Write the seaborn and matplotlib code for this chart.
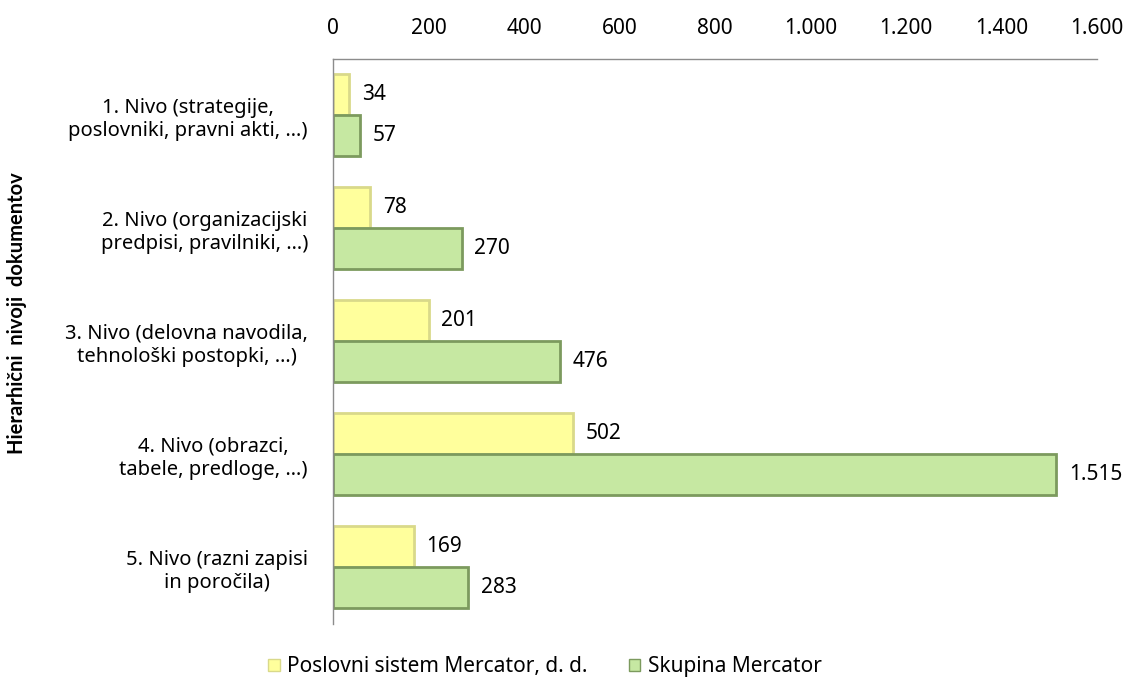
import matplotlib.pyplot as plt
import pandas as pd
import seaborn as sns

# Data
categories = [
    "1. Nivo (strategije,\nposlovniki, pravni akti, …)",
    "2. Nivo (organizacijski\npredpisi, pravilniki, …)",
    "3. Nivo (delovna navodila,\ntehnološki postopki, …)",
    "4. Nivo (obrazci,\ntabele, predloge, …)",
    "5. Nivo (razni zapisi\nin poročila)",
]
series_names = ["Poslovni sistem Mercator, d. d.", "Skupina Mercator"]
poslovni = [34, 78, 201, 502, 169]
skupina = [57, 270, 476, 1515, 283]
x_ticks = [0, 200, 400, 600, 800, 1000, 1200, 1400, 1600]

colors = ["#FFFF9C", "#C6E8A2"]
edge_colors = ["#D9D98A", "#7C9A5E"]


def fmt(v):
    return f"{v:,}".replace(",", ".")


df = pd.DataFrame({
    "Nivo": categories * 2,
    "Serija": [series_names[0]] * len(categories) + [series_names[1]] * len(categories),
    "Vrednost": poslovni + skupina,
})

sns.set_style("white")
plt.rcParams["font.family"] = ["Noto Sans", "DejaVu Sans"]
plt.rcParams["text.color"] = "black"
plt.rcParams["axes.labelcolor"] = "black"
plt.rcParams["xtick.color"] = "black"
plt.rcParams["ytick.color"] = "black"

fig = plt.figure(figsize=(11.28, 6.79), dpi=100)
ax = fig.add_axes([0.2952, 0.0817, 0.6773, 0.8321])

sns.barplot(
    data=df, y="Nivo", x="Vrednost", hue="Serija", orient="h",
    palette=colors, saturation=1, width=0.73, ax=ax, legend=False,
)

for container, ec in zip(ax.containers, edge_colors):
    for patch in container:
        patch.set_edgecolor(ec)
        patch.set_linewidth(2.0)
    ax.bar_label(container, labels=[fmt(int(v)) for v in container.datavalues],
                 padding=9, fontsize=15, color="black")

ax.set_xlim(0, 1600)
ax.set_xticks(x_ticks)
ax.set_xticklabels([fmt(t) for t in x_ticks], fontsize=15)
ax.xaxis.tick_top()
ax.tick_params(axis="x", length=0, pad=14, labelcolor="black")
ax.tick_params(axis="y", length=0, pad=18, labelcolor="black")
for lbl in ax.get_yticklabels():
    lbl.set_fontsize(14.5)
    lbl.set_multialignment("center")

ax.set_xlabel("")
ax.set_ylabel("Hierarhični  nivoji  dokumentov", fontsize=14.5, fontweight="bold",
              family=["Lato", "DejaVu Sans"], color="black")
ax.yaxis.set_label_coords(-0.40, 0.55)

for side in ["right", "bottom"]:
    ax.spines[side].set_visible(False)
for side in ["left", "top"]:
    ax.spines[side].set_color("#8C8C8C")
    ax.spines[side].set_linewidth(1.0)

handles = [
    plt.Rectangle((0, 0), 1, 1, facecolor=c, edgecolor=e, linewidth=1.0)
    for c, e in zip(colors, edge_colors)
]
fig.legend(handles, series_names, loc="center", bbox_to_anchor=(0.483, 0.018),
           ncol=2, frameon=False, fontsize=15, handlelength=0.55, handleheight=0.55,
           handletextpad=0.35, columnspacing=2.0, borderpad=0, labelcolor="black")

fig.savefig("out.png", dpi=100)
